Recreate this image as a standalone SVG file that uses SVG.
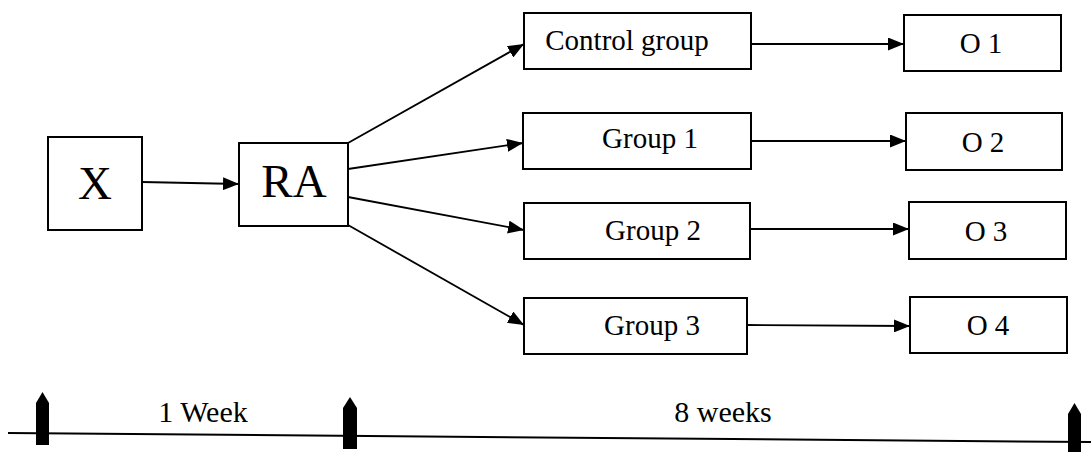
<svg xmlns="http://www.w3.org/2000/svg" width="1091" height="452" viewBox="0 0 1091 452">
<style>
.box{fill:#fff;stroke:#000;stroke-width:2}
text{font-family:'Liberation Serif','DejaVu Serif',serif;fill:#000;font-size:29px;text-anchor:middle}
.big{font-size:47px}
.c{stroke:#000;stroke-width:1.8;fill:none}
.mk{fill:#000}
</style>
<defs>
<marker id="ah" viewBox="0 0 16 13" refX="16" refY="6.5" markerWidth="16" markerHeight="13" markerUnits="userSpaceOnUse" orient="auto">
<path d="M0,0 L16,6.5 L0,13 Z" fill="#000"/>
</marker>
</defs>
<g id="connectors">
<line class="c" x1="142" y1="182" x2="239" y2="184" marker-end="url(#ah)"/>
<line class="c" x1="348" y1="143" x2="524" y2="44" marker-end="url(#ah)"/>
<line class="c" x1="348" y1="169" x2="523" y2="143" marker-end="url(#ah)"/>
<line class="c" x1="348" y1="197" x2="524" y2="230" marker-end="url(#ah)"/>
<line class="c" x1="348" y1="225" x2="524" y2="325" marker-end="url(#ah)"/>
<line class="c" x1="751" y1="44" x2="904" y2="44" marker-end="url(#ah)"/>
<line class="c" x1="751" y1="141" x2="906" y2="141" marker-end="url(#ah)"/>
<line class="c" x1="750" y1="229" x2="909" y2="229" marker-end="url(#ah)"/>
<line class="c" x1="747" y1="325" x2="910" y2="326" stroke-width="2.2" marker-end="url(#ah)"/>
</g>
<g id="X"><rect class="box" x="48" y="137" width="94" height="93"/><text class="big" x="95" y="199">X</text></g>
<g id="RA"><rect class="box" x="239" y="143" width="109" height="83"/><text class="big" x="294" y="197">RA</text></g>
<g id="control"><rect class="box" x="524" y="13" width="227" height="56"/><text x="627" y="50">Control group</text></g>
<g id="group1"><rect class="box" x="523" y="113" width="228" height="56"/><text x="650" y="148">Group 1</text></g>
<g id="group2"><rect class="box" x="524" y="203" width="226" height="56"/><text x="653" y="240">Group 2</text></g>
<g id="group3"><rect class="box" x="524" y="298" width="223" height="56"/><text x="652" y="335">Group 3</text></g>
<g id="O1"><rect class="box" x="904" y="15" width="157" height="56"/><text x="981" y="53">O 1</text></g>
<g id="O2"><rect class="box" x="906" y="113" width="156" height="57"/><text x="983" y="152">O 2</text></g>
<g id="O3"><rect class="box" x="909" y="202" width="157" height="57"/><text x="986" y="241">O 3</text></g>
<g id="O4"><rect class="box" x="910" y="297" width="157" height="56"/><text x="988" y="335">O 4</text></g>
<g id="timeline">
<line x1="8" y1="433" x2="1091" y2="442" stroke="#000" stroke-width="2"/>
<polygon class="mk" points="36,403 42.5,392 49,403 49,445 36,445"/>
<polygon class="mk" points="343,408 350,397 357,408 357,449 343,449"/>
<polygon class="mk" points="1068,414 1074.5,403 1081,414 1081,452 1068,452"/>
<text x="203" y="422" style="font-size:30px">1 Week</text>
<text x="723" y="422" style="font-size:30px">8 weeks</text>
</g>
</svg>
